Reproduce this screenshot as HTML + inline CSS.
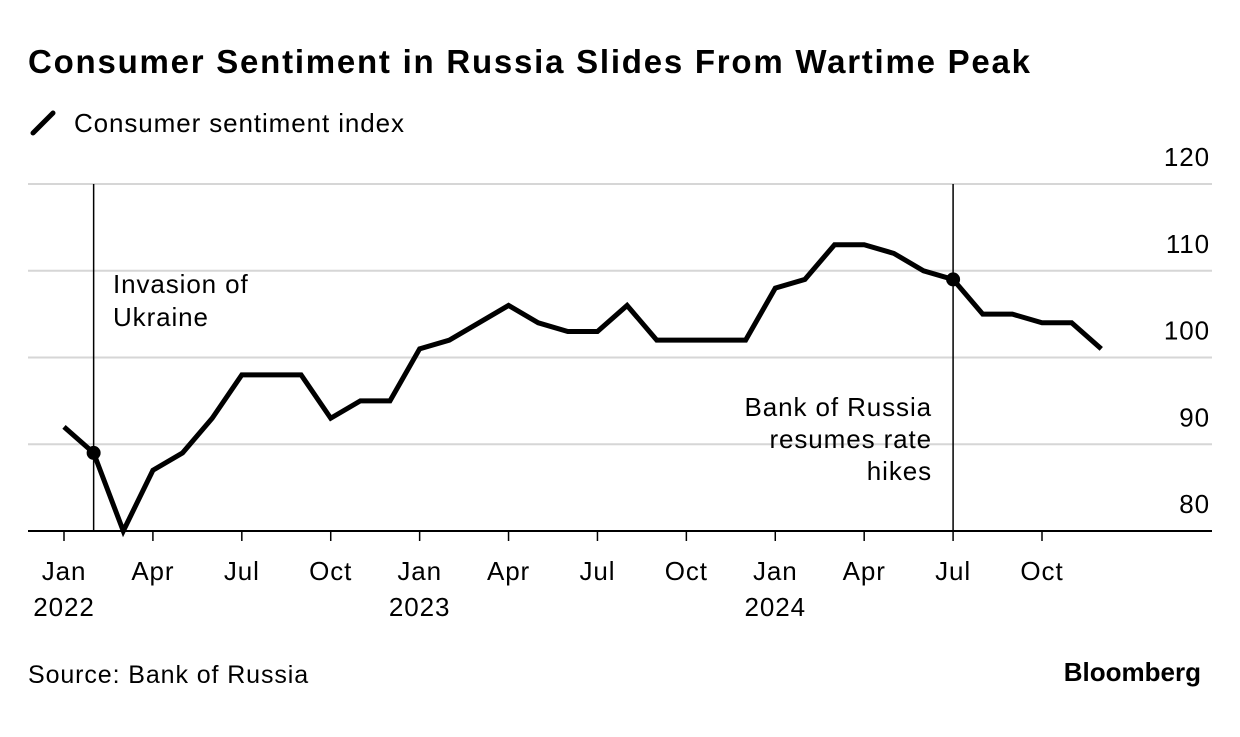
<!DOCTYPE html>
<html><head><meta charset="utf-8"><style>
body{margin:0;width:1240px;height:732px;background:#fff;font-family:"Liberation Sans",sans-serif;overflow:hidden}
.t{letter-spacing:0.9px}
</style></head><body>
<svg width="1240" height="732" font-family="Liberation Sans, sans-serif">
<text x="28" y="73" font-size="33" font-weight="bold" fill="#000" textLength="1002" lengthAdjust="spacing">Consumer Sentiment in Russia Slides From Wartime Peak</text>
<g>
<line x1="33" y1="133" x2="53" y2="113" stroke="#000" stroke-width="5" stroke-linecap="round"/>
<text class="t" x="74" y="132" font-size="26" fill="#000">Consumer sentiment index</text>
</g>
<g id="grid"></g>
<g id="yt"></g>
<g id="xt"></g>
<g id="ann"></g>
<g id="series"></g>
<text class="t" x="28" y="683" font-size="25" fill="#000">Source: Bank of Russia</text>
<text x="1201" y="681" font-size="26" font-weight="bold" fill="#000" text-anchor="end">Bloomberg</text>
</svg>
<script>
const values=[92,89,80,87,89,93,98,98,98,93,95,95,101,102,104,106,104,103,103,106,102,102,102,102,108,109,113,113,112,110,109,105,105,104,104,101];
const yTicks=[80,90,100,110,120];
const xTickMonths=[0,3,6,9,12,15,18,21,24,27,30,33];
const xTickLabels=["Jan","Apr","Jul","Oct","Jan","Apr","Jul","Oct","Jan","Apr","Jul","Oct"];
const yearLabels=["2022","","","","2023","","","","2024","","",""];
const events=[1,30];
const NS="http://www.w3.org/2000/svg";
const xs=i=>64+i*(1042-64)/33;
const ys=v=>531-(v-80)*(531-184)/40;
function mk(t,a,p){const e=document.createElementNS(NS,t);for(const k in a)e.setAttribute(k,a[k]);p.appendChild(e);return e;}
const grid=document.getElementById('grid'),yt=document.getElementById('yt'),xt=document.getElementById('xt'),ann=document.getElementById('ann'),ser=document.getElementById('series');
yTicks.forEach(v=>{
 if(v>80){const l=mk('line',{x1:28,x2:1212,y1:ys(v),y2:ys(v),stroke:'#d6d6d6','stroke-width':2},grid);
 
 }
 const t=mk('text',{x:1210,y:ys(v)-18,'font-size':26,'text-anchor':'end',fill:'#000',class:'t'},yt);t.textContent=v;
 
 
});
const ax=mk('line',{x1:28,x2:1212,y1:531,y2:531,stroke:'#000','stroke-width':2},grid);


xTickMonths.forEach((m,i)=>{
 mk('line',{x1:xs(m),x2:xs(m),y1:531,y2:541,stroke:'#000','stroke-width':1.5},xt);
 const t=mk('text',{x:xs(m),y:580,'font-size':26,'text-anchor':'middle',fill:'#000',class:'t'},xt);t.textContent=xTickLabels[i];
 
 
 if(yearLabels[i]){const y=mk('text',{x:xs(m),y:616,'font-size':26,'text-anchor':'middle',fill:'#000',class:'t'},xt);y.textContent=yearLabels[i];
 
 }
});
events.forEach(m=>{const l=mk('line',{x1:xs(m),x2:xs(m),y1:184,y2:531,stroke:'#000','stroke-width':1.5},ann);
 
 });
[["Invasion of",113,293,'start'],["Ukraine",113,326,'start'],["Bank of Russia",932,416,'end'],["resumes rate",932,448,'end'],["hikes",932,480,'end']].forEach(a=>{
 const t=mk('text',{x:a[1],y:a[2],'font-size':26,'text-anchor':a[3],fill:'#000',class:'t'},ann);t.textContent=a[0];
 
 
});
const p=mk('polyline',{points:values.map((v,i)=>xs(i)+','+ys(v)).join(' '),fill:'none',stroke:'#000','stroke-width':5,'stroke-linejoin':'miter'},ser);


events.forEach(m=>{const c=mk('circle',{cx:xs(m),cy:ys(values[m]),r:7,fill:'#000'},ser);
 
 });
</script>
</body></html>
